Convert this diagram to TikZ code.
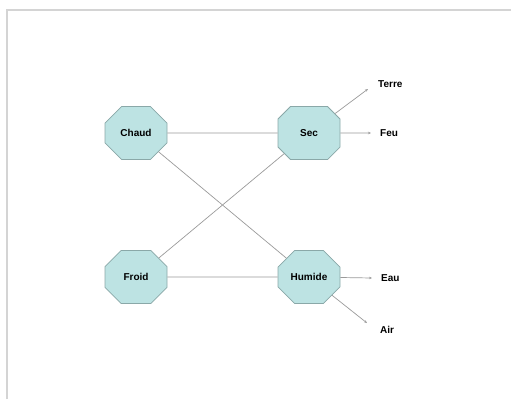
\documentclass[tikz,border=0pt]{standalone}
\usepackage{fontspec}
\setmainfont{Liberation Sans}
\usetikzlibrary{shapes.misc,arrows.meta}
\definecolor{octfill}{HTML}{BDE3E3}
\definecolor{octline}{HTML}{8AA8A8}
\definecolor{wire}{HTML}{9A9A9A}
\definecolor{frame}{HTML}{D4D4D4}
\tikzset{
  quality/.style={chamfered rectangle, chamfered rectangle xsep=13pt, chamfered rectangle ysep=13pt, draw=octline, fill=octfill, line width=0.8pt,
    minimum width=62pt, minimum height=53pt, inner sep=0pt, font=\fontsize{10}{11}\selectfont\bfseries},
  element/.style={anchor=west, inner sep=0pt, font=\fontsize{10}{11}\selectfont\bfseries},
  link/.style={draw=wire, line width=0.7pt},
  toelement/.style={link, -{Stealth[length=3pt,width=2.5pt]}}
}
\begin{document}
\begin{tikzpicture}[x=1pt,y=-1pt]
\useasboundingbox (0,0) rectangle (511,399);
\draw[frame, line width=1.5pt] (7,399) -- (7,10) -- (511,10);
\node[quality] (chaud) at (136,133){Chaud};
\node[quality] (sec) at (309,133){Sec};
\node[quality] (froid) at (136,277){Froid};
\node[quality] (humide) at (309,277){Humide};
\coordinate (pterre) at (368,89);
\coordinate (pfeu) at (371,133);
\coordinate (peau) at (372,278);
\coordinate (pair) at (367,323);
\node[element] (terre) at (378,84){Terre};
\node[element] (feu) at (380,133){Feu};
\node[element] (eau) at (381,278){Eau};
\node[element] (air) at (380,330){Air};
\draw[link] (chaud)--(sec);
\draw[link] (chaud)--(humide);
\draw[link] (froid)--(sec);
\draw[link] (froid)--(humide);
\draw[toelement] (sec)--(pterre);
\draw[toelement] (sec)--(pfeu);
\draw[toelement] (humide)--(peau);
\draw[toelement] (humide)--(pair);
\end{tikzpicture}
\end{document}
